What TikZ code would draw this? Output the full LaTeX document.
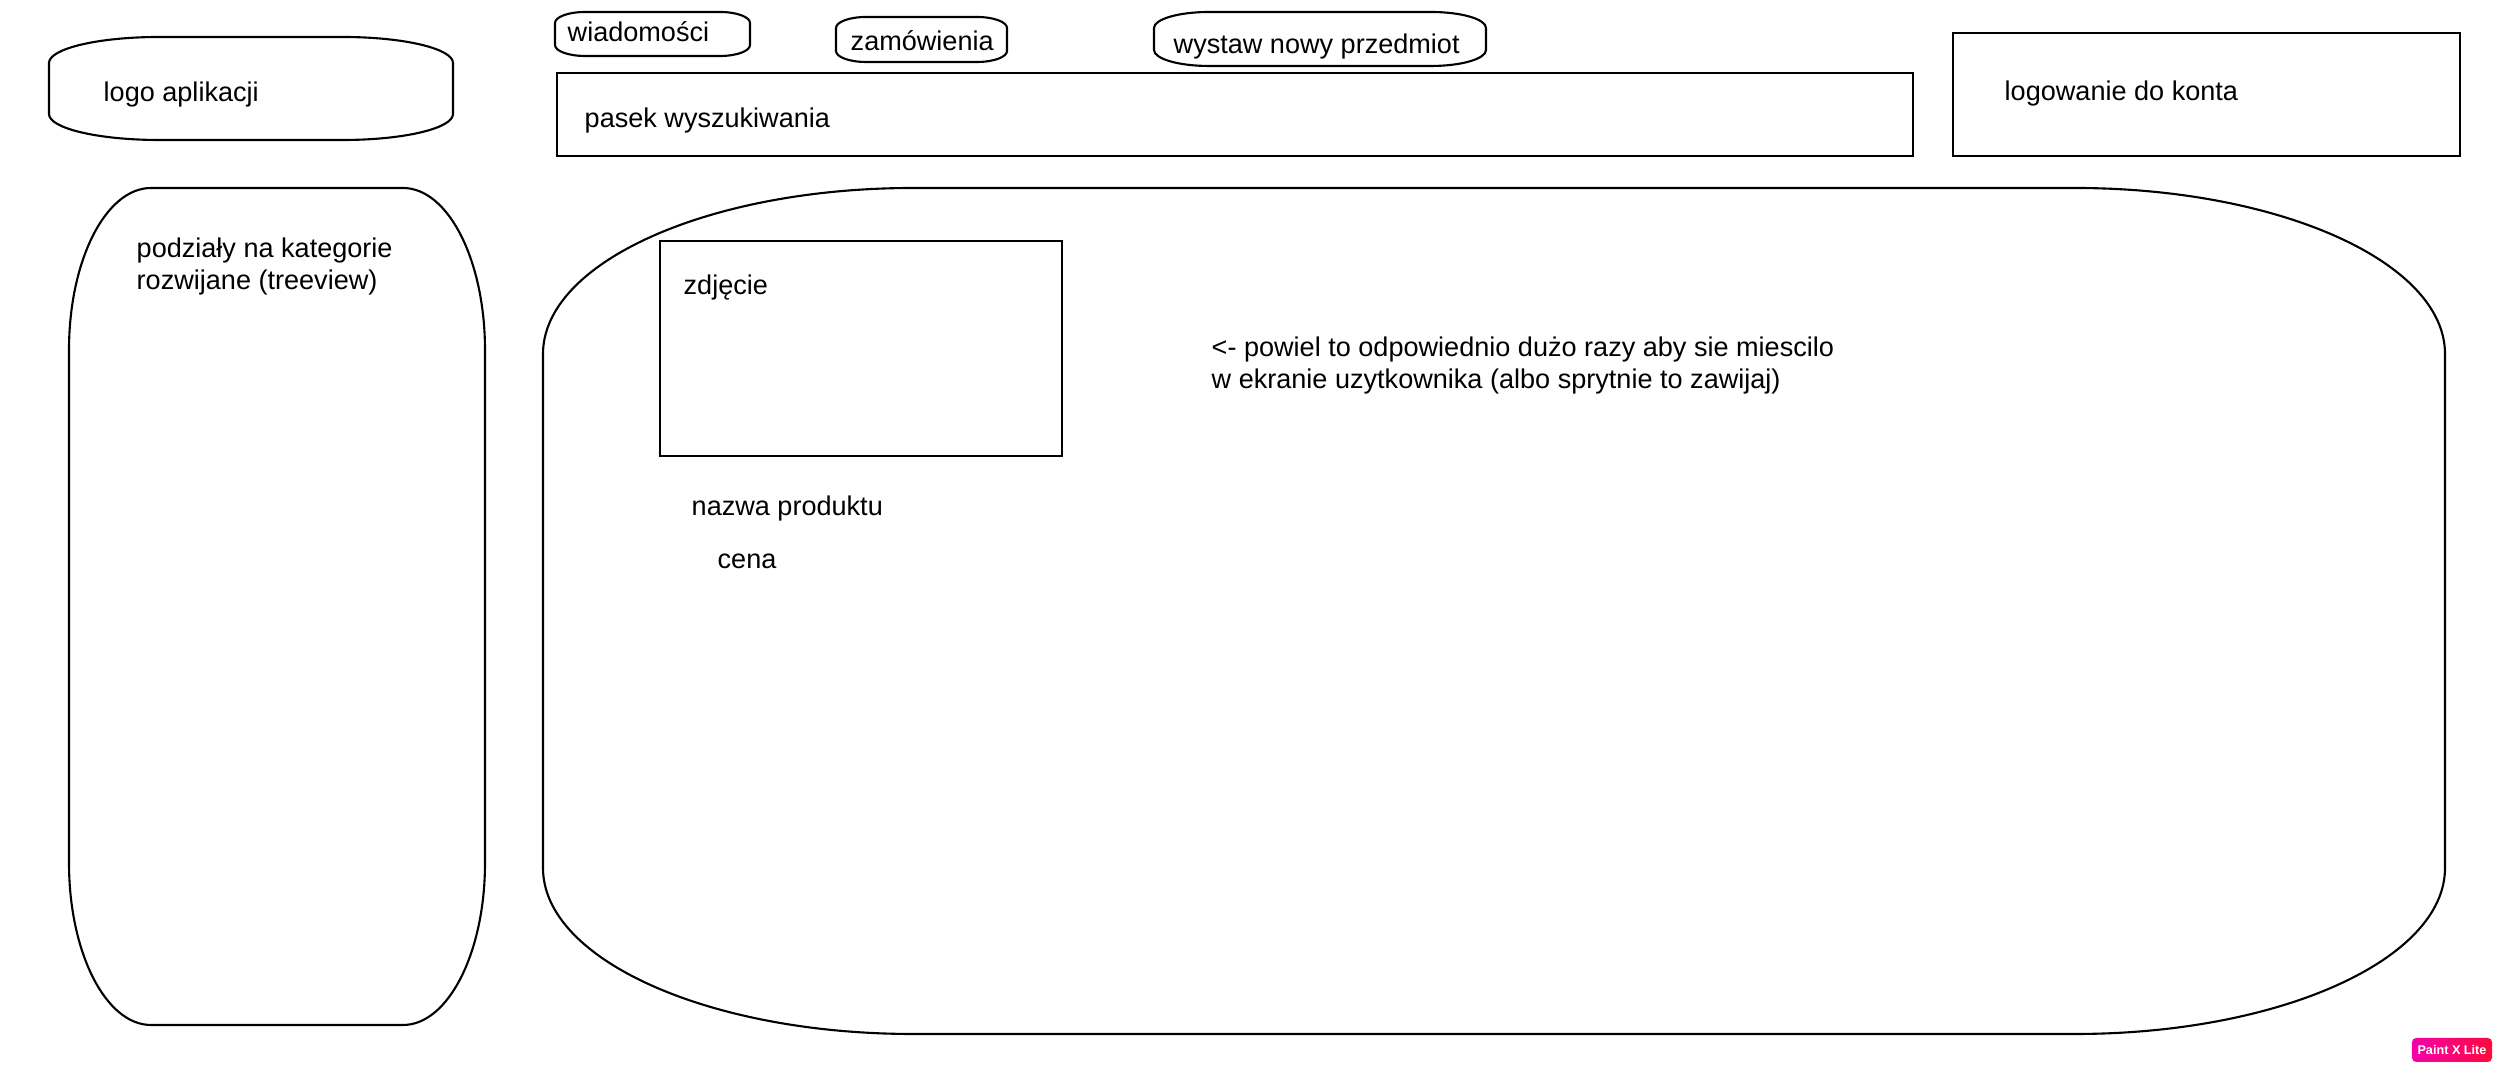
\documentclass[tikz,border=0pt]{standalone}
\usepackage{fontspec}
\setmainfont{Liberation Sans}
\newcommand{\owalbox}[6]{%
	\draw[ramka] (#1,#2+#6) arc[start angle=180,end angle=270,x radius=#5,y radius=#6]
		-- (#3-#5,#2) arc[start angle=270,end angle=360,x radius=#5,y radius=#6]
		-- (#3,#4-#6) arc[start angle=0,end angle=90,x radius=#5,y radius=#6]
		-- (#1+#5,#4) arc[start angle=90,end angle=180,x radius=#5,y radius=#6] -- cycle;}
\tikzset{
	ramka/.style={line width=0.6pt},
	opis/.style={anchor=base west, inner sep=0pt, align=left, font=\fontsize{7.7}{9.3}\selectfont},
}
\begin{document}
\begin{tikzpicture}[x=0.01cm,y=-0.01cm]
	\useasboundingbox (0,0) rectangle (2502,1071);
	\owalbox{49}{37}{453}{140}{110}{26}
	\owalbox{555}{12}{750}{56}{30}{11}
	\owalbox{836}{17}{1007}{62}{30}{11}
	\owalbox{1154}{12}{1486}{66}{55}{16}
	\owalbox{69}{188}{485}{1025}{82}{162}
	\owalbox{543}{188}{2445}{1034}{370}{166}
	\draw[ramka] (557,73) rectangle (1913,156);
	\draw[ramka] (1953,33) rectangle (2460,156);
	\draw[ramka] (660,241) rectangle (1062,456);

	\node[opis] (logo) at (103,102) {logo aplikacji};
	\node[opis] (wiad) at (567,42) {wiadomości};
	\node[opis] (zam) at (850,51) {zamówienia};
	\node[opis] (wystaw) at (1173,54) {wystaw nowy przedmiot};
	\node[opis] (pasek) at (584,128) {pasek wyszukiwania};
	\node[opis] (login) at (2004,101) {logowanie do konta};
	\node[opis] (kat) at (136,290) {podziały na kategorie\\rozwijane (treeview)};
	\node[opis] (zdj) at (683,295) {zdjęcie};
	\node[opis] (nazwa) at (691,516) {nazwa produktu};
	\node[opis] (cena) at (717,569) {cena};
	\node[opis] (uwaga) at (1211,389) {<- powiel to odpowiednio dużo razy aby sie miescilo\\w ekranie uzytkownika (albo sprytnie to zawijaj)};

	\node[rounded corners=1.2pt, left color={rgb,255:red,245;green,0;blue,170}, right color={rgb,255:red,255;green,10;blue,60}, text=white, font=\fontsize{3.6}{4}\selectfont\bfseries, minimum width=0.8cm, minimum height=0.24cm, inner sep=0pt] (paint) at (2452,1050) {Paint X Lite};
\end{tikzpicture}
\end{document}
